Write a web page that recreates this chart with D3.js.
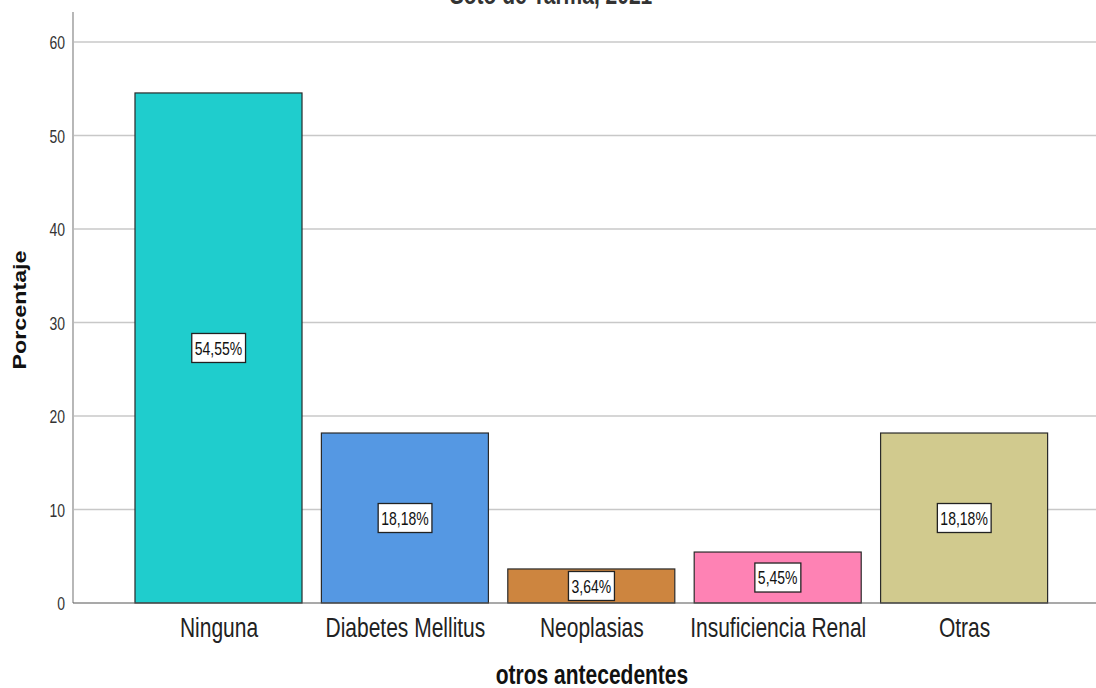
<!DOCTYPE html>
<html><head><meta charset="utf-8">
<script src="https://cdn.jsdelivr.net/npm/d3@7"></script>
<style>body{margin:0;background:#fff;} svg{display:block;}</style>
</head><body>
<svg id="chart" width="1096" height="688"></svg>
<script>
const categories = ["Ninguna", "Diabetes Mellitus", "Neoplasias", "Insuficiencia Renal", "Otras"];
const values = [54.55, 18.18, 3.64, 5.45, 18.18];
const labels = ["54,55%", "18,18%", "3,64%", "5,45%", "18,18%"];
const colors = ["#1fcdcd", "#5598e3", "#cd853f", "#fe82b4", "#d1ca8e"];
const yTicks = [0, 10, 20, 30, 40, 50, 60];
const titleText = "Soto de Tarma, 2021";

const svg = d3.select("#chart");
const FONT = "'Liberation Sans', Arial, sans-serif";
const SY = 1.33; // vertical stretch of glyphs in the reference

const y = d3.scaleLinear().domain([0, 60]).range([603, 42]);
const x = d3.scaleBand().domain(categories).range([125.3, 1057.3]).paddingInner(0.104).paddingOuter(0.052);

function stretchedText(parent, tx, ty, txt, size, weight, fill, extra) {
  return parent.append("text")
    .attr("transform", `translate(${tx},${ty}) scale(1,${SY})` + (extra || ""))
    .attr("text-anchor", "middle")
    .attr("font-family", FONT).attr("font-size", size).attr("font-weight", weight).attr("fill", fill)
    .text(txt);
}

// title (cut off at top edge, as in the reference)
stretchedText(svg, 551, 4, titleText, 21, "bold", "#333");

// gridlines
svg.append("g").selectAll("line").data(yTicks.filter(d => d > 0)).join("line")
  .attr("x1", 74).attr("x2", 1096).attr("y1", d => y(d)).attr("y2", d => y(d))
  .attr("stroke", "#c8c8c8").attr("stroke-width", 1.6);

// y axis
const yAxis = d3.axisLeft(y).tickValues(yTicks).tickSize(0).tickPadding(8);
const gy = svg.append("g").attr("transform", "translate(73,0)").call(yAxis);
gy.select(".domain").remove();
gy.selectAll(".tick text")
  .attr("font-family", FONT).attr("font-size", 14).attr("fill", "#333")
  .attr("dy", null).attr("y", 0)
  .attr("transform", `translate(-8,${0.36 * 14 * SY}) scale(1,${SY})`).attr("x", 0);
svg.append("line").attr("x1", 73).attr("x2", 73).attr("y1", 12).attr("y2", 603).attr("stroke", "#888").attr("stroke-width", 1.2);

// bars
svg.append("g").selectAll("rect").data(categories).join("rect")
  .attr("x", d => x(d)).attr("width", x.bandwidth())
  .attr("y", (d, i) => y(values[i])).attr("height", (d, i) => y(0) - y(values[i]))
  .attr("fill", (d, i) => colors[i]).attr("stroke", "#2a2a2a").attr("stroke-width", 1.2);

// x axis baseline
svg.append("line").attr("x1", 73).attr("x2", 1096).attr("y1", 603).attr("y2", 603).attr("stroke", "#555").attr("stroke-width", 1.2);

// x axis labels
const xAxis = d3.axisBottom(x).tickSize(0).tickPadding(0);
const gx = svg.append("g").attr("transform", "translate(0,603)").call(xAxis);
gx.select(".domain").remove();
gx.selectAll(".tick text")
  .attr("font-family", FONT).attr("font-size", 21).attr("fill", "#222")
  .attr("dy", null).attr("y", 0)
  .attr("transform", `translate(0.5,34) scale(1,${SY})`);

// value labels
const lg = svg.append("g").selectAll("g").data(categories).join("g")
  .attr("transform", (d, i) => {
    let cy = y(values[i] / 2);
    cy = Math.min(cy, 587.5);
    return `translate(${x(d) + x.bandwidth() / 2},${cy})`;
  });
lg.append("text").attr("text-anchor", "middle")
  .attr("transform", `translate(0,${0.36 * 14 * SY}) scale(1,${SY})`)
  .attr("font-family", FONT).attr("font-size", 14).attr("fill", "#111")
  .text((d, i) => labels[i]);
lg.each(function () {
  const g = d3.select(this);
  const bb = g.select("text").node().getBBox();
  g.insert("rect", "text").attr("x", bb.x - 3).attr("y", -14.5).attr("width", bb.width + 6).attr("height", 29)
    .attr("fill", "#fff").attr("stroke", "#222").attr("stroke-width", 1.3);
});

// axis titles
stretchedText(svg, 26, 310, "Porcentaje", 17.5, "bold", "#111", " rotate(-90)");
stretchedText(svg, 592, 684, "otros antecedentes", 21, "bold", "#111");
</script>
</body></html>
